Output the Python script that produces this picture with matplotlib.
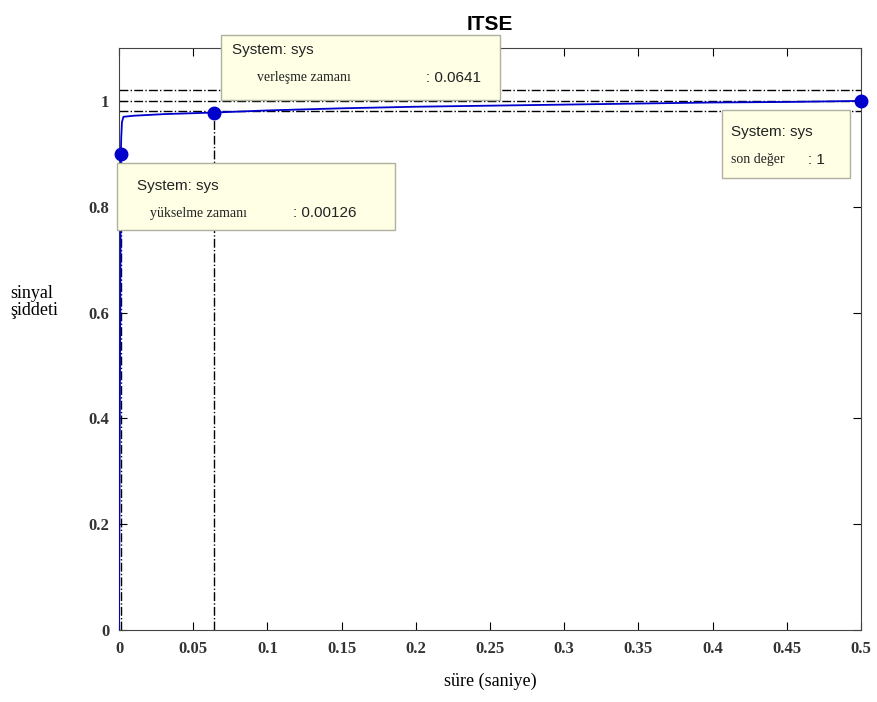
import matplotlib.pyplot as plt
from matplotlib.patches import Rectangle

# step response
t = [0, 0.00126, 0.0015, 0.002, 0.003, 0.01, 0.03, 0.0641, 0.1, 0.15, 0.2, 0.25, 0.3, 0.35, 0.4, 0.45, 0.5]
y = [0, 0.9, 0.93, 0.96, 0.97, 0.972, 0.975, 0.978, 0.982, 0.986, 0.989, 0.991, 0.993, 0.995, 0.997, 0.998, 1.0]

rise_t, rise_y = 0.00126, 0.9
settle_t, settle_y = 0.0641, 0.978
final_t, final_y = 0.5, 1.0
band = [0.98, 1.0, 1.02]

xticks = [0, 0.05, 0.1, 0.15, 0.2, 0.25, 0.3, 0.35, 0.4, 0.45, 0.5]
xticklabels = ['0', '0.05', '0.1', '0.15', '0.2', '0.25', '0.3', '0.35', '0.4', '0.45', '0.5']
yticks = [0, 0.2, 0.4, 0.6, 0.8, 1]
yticklabels = ['0', '0.2', '0.4', '0.6', '0.8', '1']

W, H = 877, 702
fig = plt.figure(figsize=(W / 100, H / 100), dpi=100)
ax = fig.add_axes([119 / W, 1 - 630 / H, (861 - 119) / W, (630 - 48) / H])

for b in band:
    ax.axhline(b, color='black', ls='-.', lw=1, zorder=1)
ax.plot([rise_t, rise_t], [0, rise_y], color='black', ls='-.', lw=1)
ax.plot([settle_t, settle_t], [0, settle_y], color='black', ls='-.', lw=1)
ax.plot(t, y, color='#0000cc', lw=1.3, zorder=3)
ax.plot([rise_t, settle_t, final_t], [rise_y, settle_y, final_y], 'o',
        color='#0000cc', ms=9, zorder=4, clip_on=False)

ax.set_xlim(0, 0.5)
ax.set_ylim(0, 1.1)
ax.set_xticks(xticks)
ax.set_xticklabels(xticklabels)
ax.set_yticks(yticks)
ax.set_yticklabels(yticklabels)
ax.tick_params(direction='in', top=True, right=True, length=6, width=0.8)
ax.tick_params(axis='x', pad=8)
ax.tick_params(axis='y', pad=7)
for lab in ax.get_xticklabels() + ax.get_yticklabels():
    lab.set_family('Liberation Serif')
    lab.set_fontweight('bold')
    lab.set_fontsize(12)
    lab.set_color('#333333')
for s in ax.spines.values():
    s.set_color('#444444')

fig.text(0.5 * (119 + 861) / W, 1 - 25 / H, 'ITSE', ha='center', va='center',
         family='Liberation Sans', fontweight='bold', fontsize=15)
fig.text(490 / W, 1 - 681 / H, 'süre (saniye)', ha='center', va='center',
         family='Liberation Serif', fontsize=13)
fig.text(10 / W, 1 - 302 / H, 'sinyal\nşiddeti', ha='left', va='center',
         family='Liberation Serif', fontsize=13, linespacing=1.0)


def tip(x0, y0, x1, y1, lines):
    fig.patches.append(Rectangle((x0 / W, 1 - y1 / H), (x1 - x0) / W, (y1 - y0) / H,
                                 transform=fig.transFigure, facecolor='#ffffe6',
                                 edgecolor='#b0b0a0', lw=1, zorder=5))
    for px, py, s, fam, fs in lines:
        fig.text(px / W, 1 - py / H, s, ha='left', va='center', family=fam,
                 fontsize=fs, zorder=6, color='#222222')


tip(221, 35, 500, 100, [
    (232, 50, 'System: sys', 'Liberation Sans', 11),
    (257, 78, 'verleşme zamanı', 'Liberation Serif', 10),
    (426, 78, ': 0.0641', 'Liberation Sans', 11),
])
tip(117, 163, 395, 230, [
    (137, 186, 'System: sys', 'Liberation Sans', 11),
    (150, 213, 'yükselme zamanı', 'Liberation Serif', 10),
    (293, 213, ': 0.00126', 'Liberation Sans', 11),
])
tip(722, 110, 850, 178, [
    (731, 132, 'System: sys', 'Liberation Sans', 11),
    (731, 160, 'son değer', 'Liberation Serif', 10),
    (808, 160, ': 1', 'Liberation Sans', 11),
])

fig.savefig('out.png', dpi=100)
